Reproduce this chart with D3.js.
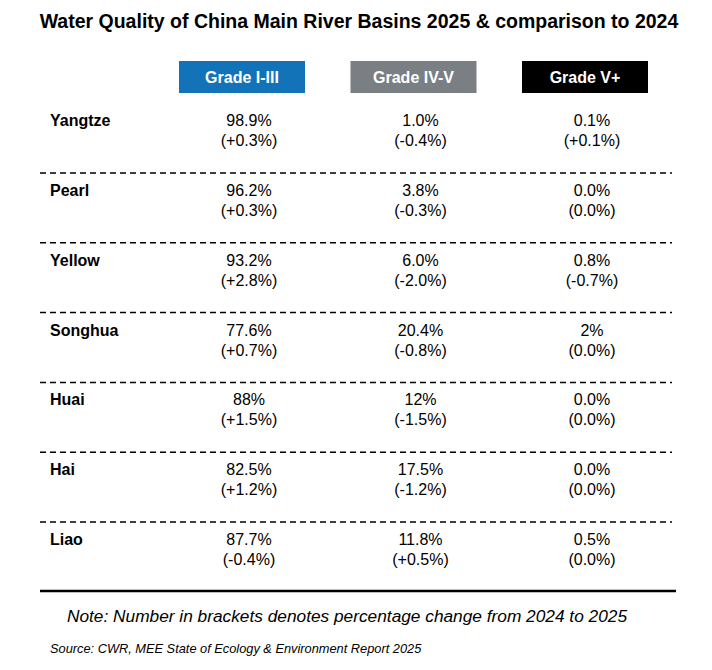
<!DOCTYPE html>
<html><head><meta charset="utf-8">
<script src="https://cdn.jsdelivr.net/npm/d3@7"></script>
<style>body{margin:0;background:#fff}svg{font-family:Arial,"Liberation Sans",sans-serif}</style>
</head><body><svg id="c" width="712" height="670"></svg>
<script>
const rivers = ["Yangtze","Pearl","Yellow","Songhua","Huai","Hai","Liao"];
const grades = ["Grade I-III","Grade IV-V","Grade V+"];
const gradeColors = ["#1273b9","#7a7f84","#000000"];
const values2025 = [
  ["98.9%","1.0%","0.1%"],
  ["96.2%","3.8%","0.0%"],
  ["93.2%","6.0%","0.8%"],
  ["77.6%","20.4%","2%"],
  ["88%","12%","0.0%"],
  ["82.5%","17.5%","0.0%"],
  ["87.7%","11.8%","0.5%"]
];
const changes = [
  ["(+0.3%)","(-0.4%)","(+0.1%)"],
  ["(+0.3%)","(-0.3%)","(0.0%)"],
  ["(+2.8%)","(-2.0%)","(-0.7%)"],
  ["(+0.7%)","(-0.8%)","(0.0%)"],
  ["(+1.5%)","(-1.5%)","(0.0%)"],
  ["(+1.2%)","(-1.2%)","(0.0%)"],
  ["(-0.4%)","(+0.5%)","(0.0%)"]
];
const svg = d3.select("#c");
svg.append("text").attr("x",359).attr("y",28).attr("text-anchor","middle")
  .attr("font-size",19.5).attr("font-weight","bold").text("Water Quality of China Main River Basins 2025 & comparison to 2024");
const x = d3.scalePoint().domain(grades).range([242,585]);
const y = d3.scalePoint().domain(rivers).range([121,540]);
const bw=126, bh=32;
grades.forEach((g,i)=>{
  svg.append("rect").attr("x",x(g)-bw/2).attr("y",61).attr("width",bw).attr("height",bh).attr("fill",gradeColors[i]);
  svg.append("text").attr("x",x(g)).attr("y",83).attr("text-anchor","middle").attr("fill","#fff")
    .attr("font-size",16).attr("font-weight","bold").text(g);
});
const rowH = y.step();
rivers.forEach((r,ri)=>{
  const yy=y(r);
  svg.append("text").attr("x",50).attr("y",yy+5).attr("font-size",16).attr("font-weight","bold").text(r);
  grades.forEach((g,gi)=>{
    svg.append("text").attr("x",x(g)+7).attr("y",yy+5).attr("text-anchor","middle").attr("font-size",16).text(values2025[ri][gi]);
    svg.append("text").attr("x",x(g)+7).attr("y",yy+25).attr("text-anchor","middle").attr("font-size",16).text(changes[ri][gi]);
  });
  if(ri<rivers.length-1){
    svg.append("line").attr("x1",40).attr("x2",672).attr("y1",yy+rowH/2+17).attr("y2",yy+rowH/2+17)
      .attr("stroke","#000").attr("stroke-width",1.5).attr("stroke-dasharray","6,4");
  }
});
svg.append("line").attr("x1",40).attr("x2",676).attr("y1",591).attr("y2",591).attr("stroke","#000").attr("stroke-width",2.5);
svg.append("text").attr("x",347).attr("y",622).attr("text-anchor","middle").attr("font-size",17.3).attr("font-style","italic")
  .text("Note: Number in brackets denotes percentage change from 2024 to 2025");
svg.append("text").attr("x",50).attr("y",653).attr("font-size",12.8).attr("font-style","italic")
  .text("Source: CWR, MEE State of Ecology & Environment Report 2025");
</script></body></html>
